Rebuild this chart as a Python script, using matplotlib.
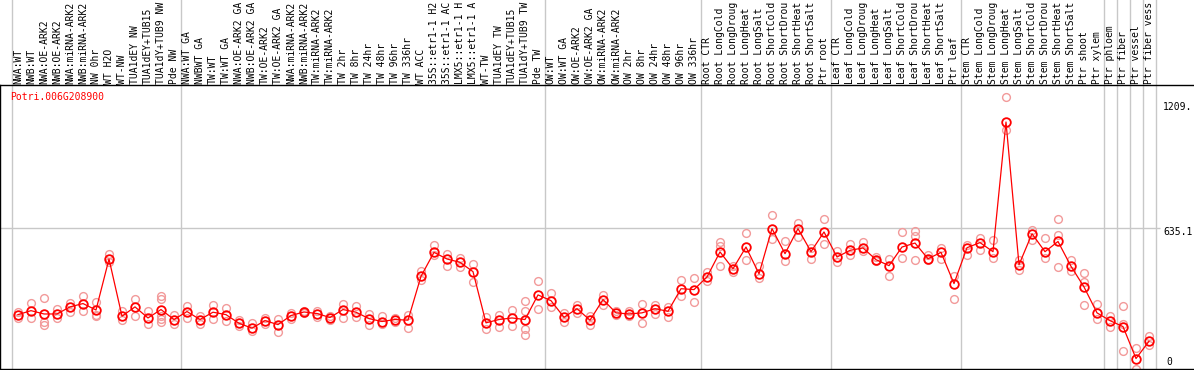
import matplotlib
matplotlib.use('Agg')
import matplotlib.pyplot as plt

# ─── Data ──────────────────────────────────────────────────────────────────────
GENE = 'Potri.006G208900'

# sample names as shown in the header (long names are cut at 14 characters)
samples = [
    'NWA:WT', 'NWB:WT', 'NWA:OE-ARK2', 'NWB:OE-ARK2', 'NWA:miRNA-ARK2',
    'NWB:miRNA-ARK2', 'NW 0hr', 'WT H2O', 'WT-NW', 'TUA1dEY NW',
    'TUA1dEY+TUB15', 'TUA1dY+TUB9 NW', 'Pde NW',
    'NWA:WT GA', 'NWBWT GA', 'TW:WT', 'TW:WT GA', 'NWA:OE-ARK2 GA',
    'NWB:OE-ARK2 GA', 'TW:OE-ARK2', 'TW:OE-ARK2 GA', 'NWA:miRNA-ARK2',
    'NWB:miRNA-ARK2', 'TW:miRNA-ARK2', 'TW:miRNA-ARK2', 'TW 2hr',
    'TW 8hr', 'TW 24hr', 'TW 48hr', 'TW 96hr', 'TW 336hr', 'WT ACC',
    '35S::etr1-1 H2', '35S::etr1-1 AC', 'LMX5::etr1-1 H',
    'LMX5::etr1-1 A', 'WT-TW', 'TUA1dEY TW', 'TUA1dEY+TUB15',
    'TUA1dY+TUB9 TW', 'Pde TW',
    'OW:WT', 'OW:WT GA', 'OW:OE-ARK2', 'OW:OE-ARK2 GA', 'OW:miRNA-ARK2',
    'OW:miRNA-ARK2', 'OW 2hr', 'OW 8hr', 'OW 24hr', 'OW 48hr', 'OW 96hr',
    'OW 336hr',
    'Root CTR', 'Root LongCold', 'Root LongDroug', 'Root LongHeat',
    'Root LongSalt', 'Root ShortCold', 'Root ShortDrou', 'Root ShortHeat',
    'Root ShortSalt', 'Ptr root',
    'Leaf CTR', 'Leaf LongCold', 'Leaf LongDroug', 'Leaf LongHeat',
    'Leaf LongSalt', 'Leaf ShortCold', 'Leaf ShortDrou', 'Leaf ShortHeat',
    'Leaf ShortSalt', 'Ptr leaf',
    'Stem CTR', 'Stem LongCold', 'Stem LongDroug', 'Stem LongHeat',
    'Stem LongSalt', 'Stem ShortCold', 'Stem ShortDrou', 'Stem ShortHeat',
    'Stem ShortSalt', 'Ptr shoot', 'Ptr xylem',
    'Ptr phloem', 'Ptr fiber', 'Ptr vessel', 'Ptr fiber vess',
]

means = [
    243, 261, 246, 246, 278, 293, 264, 494, 236, 278, 228, 266, 221,
    257, 221, 254, 243, 204, 182, 216, 198, 239, 255, 248, 230, 266, 254,
    225, 212, 221, 218, 416, 524, 494, 479, 437, 206, 221, 228, 221, 332,
    306, 231, 270, 218, 311, 251, 246, 251, 270, 258, 360, 356,
    413, 526, 450, 548, 427, 631, 518, 631, 527, 616,
    503, 533, 544, 491, 464, 548, 566, 495, 524, 383,
    545, 568, 527, 1112, 468, 608, 527, 573, 461, 368, 251,
    216, 189, 45, 123,
]

replicates = [
    [257, 230], [297, 230], [320, 212, 198], [270, 230], [297, 257],
    [326, 258], [299, 243, 239], [518, 479], [261, 221], [314, 239],
    [261, 203], [326, 314, 239, 225, 212], [240, 203],
    [281, 230], [239, 203], [288, 225], [272, 216], [221, 191], [204, 167],
    [230, 203], [225, 163], [252, 225], [261, 252], [258, 233], [239, 221],
    [293, 230], [281, 233], [248, 195], [236, 203], [230, 209], [243, 183],
    [438, 401], [558, 513], [517, 464], [499, 456], [473, 390], [233, 179],
    [243, 188], [266, 191], [306, 261, 176, 153], [393, 269],
    [341, 276], [252, 212], [288, 251], [239, 194], [332, 288], [258, 243],
    [258, 236], [293, 206], [288, 248], [278, 233], [401, 329], [409, 300],
    [434, 393], [571, 551, 464], [461, 434], [611, 491], [461, 409],
    [694, 584], [573, 483], [656, 593], [544, 494], [676, 563],
    [528, 479], [563, 513], [569, 528], [501, 483], [495, 416], [616, 499],
    [622, 596, 491], [513, 488], [544, 494], [419, 314],
    [558, 513], [590, 536], [581, 500], [1225, 1076], [491, 446], [626, 581],
    [590, 500], [674, 604, 458], [491, 438], [431, 389, 285], [293, 224],
    [239, 188], [281, 203, 81], [93, 0], [145, 108],
]

# group separators sit after these sample indices
SEP_AFTER = [-1, 12, 40, 52, 62, 72, 83, 84, 85, 86, 87]
MID_VALUE = 635.1
TOP_LABEL = '1209.'

# ─── Canvas ────────────────────────────────────────────────────────────────────
W, H = 1194, 370
HEADER = 85           # header band height in px
fig = plt.figure(figsize=(W / 100, H / 100), dpi=100)
fig.patch.set_facecolor('white')

XLIM = (-18 / 13, (W - 18) / 13)   # sample i sits at pixel 18 + 13*i
YLIM = (0, 1279)
MONO = 'DejaVu Sans Mono'
FS = 7.0
GRID = '#C8C8C8'
RED = '#FF0000'
PINK = '#F29A9A'

hdr = fig.add_axes([0, 1 - HEADER / H, 1, HEADER / H])
ax = fig.add_axes([0, 1.5 / H, 1, (H - HEADER - 1.5) / H])

for a in (hdr, ax):
    a.set_xlim(*XLIM)
    a.set_xticks([])
    a.set_yticks([])
hdr.set_ylim(0, 1)
ax.set_ylim(*YLIM)

for s in hdr.spines.values():
    s.set_visible(False)
for k in ('top', 'bottom', 'left'):
    ax.spines[k].set_color('black')
    ax.spines[k].set_linewidth(1.0)
ax.spines['right'].set_visible(False)

# ─── Separators & grid ─────────────────────────────────────────────────────────
for s in SEP_AFTER:
    hdr.axvline(s + 0.5, color=GRID, lw=1.0, zorder=0)
    ax.axvline(s + 0.5, color=GRID, lw=1.0, zorder=0)
ax.hlines(MID_VALUE, XLIM[0], (1160 - 18) / 13, color=GRID, lw=1.0, zorder=0)

# ─── Header labels ─────────────────────────────────────────────────────────────
for i, name in enumerate(samples):
    hdr.text(i, 0.01, name, rotation=90, ha='center', va='bottom',
             fontsize=FS, family=MONO, color='black')

# ─── Replicates and mean line ──────────────────────────────────────────────────
for i, reps in enumerate(replicates):
    ax.plot([i] * len(reps), reps, 'o', ms=5.6, mfc='none', mec=PINK,
            mew=1.0, zorder=2)

xs = list(range(len(samples)))
ax.plot(xs, means, '-', color=RED, lw=0.9, zorder=3)
ax.plot(xs, means, 'o', ms=6.2, mfc='none', mec=RED, mew=1.3, zorder=4)

# ─── Gene name & value labels ──────────────────────────────────────────────────
ax.text(10 / W, 1 - (97 - HEADER) / (H - HEADER), GENE, transform=ax.transAxes,
        ha='left', va='center', fontsize=FS, family=MONO, color=RED)
fig.text(1163 / W, 1 - 107 / H, TOP_LABEL, ha='left', va='center',
         fontsize=FS, family=MONO)
fig.text(1163 / W, 1 - 232 / H, f'{MID_VALUE}', ha='left', va='center',
         fontsize=FS, family=MONO)
fig.text(1166 / W, 1 - 362 / H, '0', ha='left', va='center',
         fontsize=FS, family=MONO)

fig.savefig('out.png', dpi=100, facecolor='white')
